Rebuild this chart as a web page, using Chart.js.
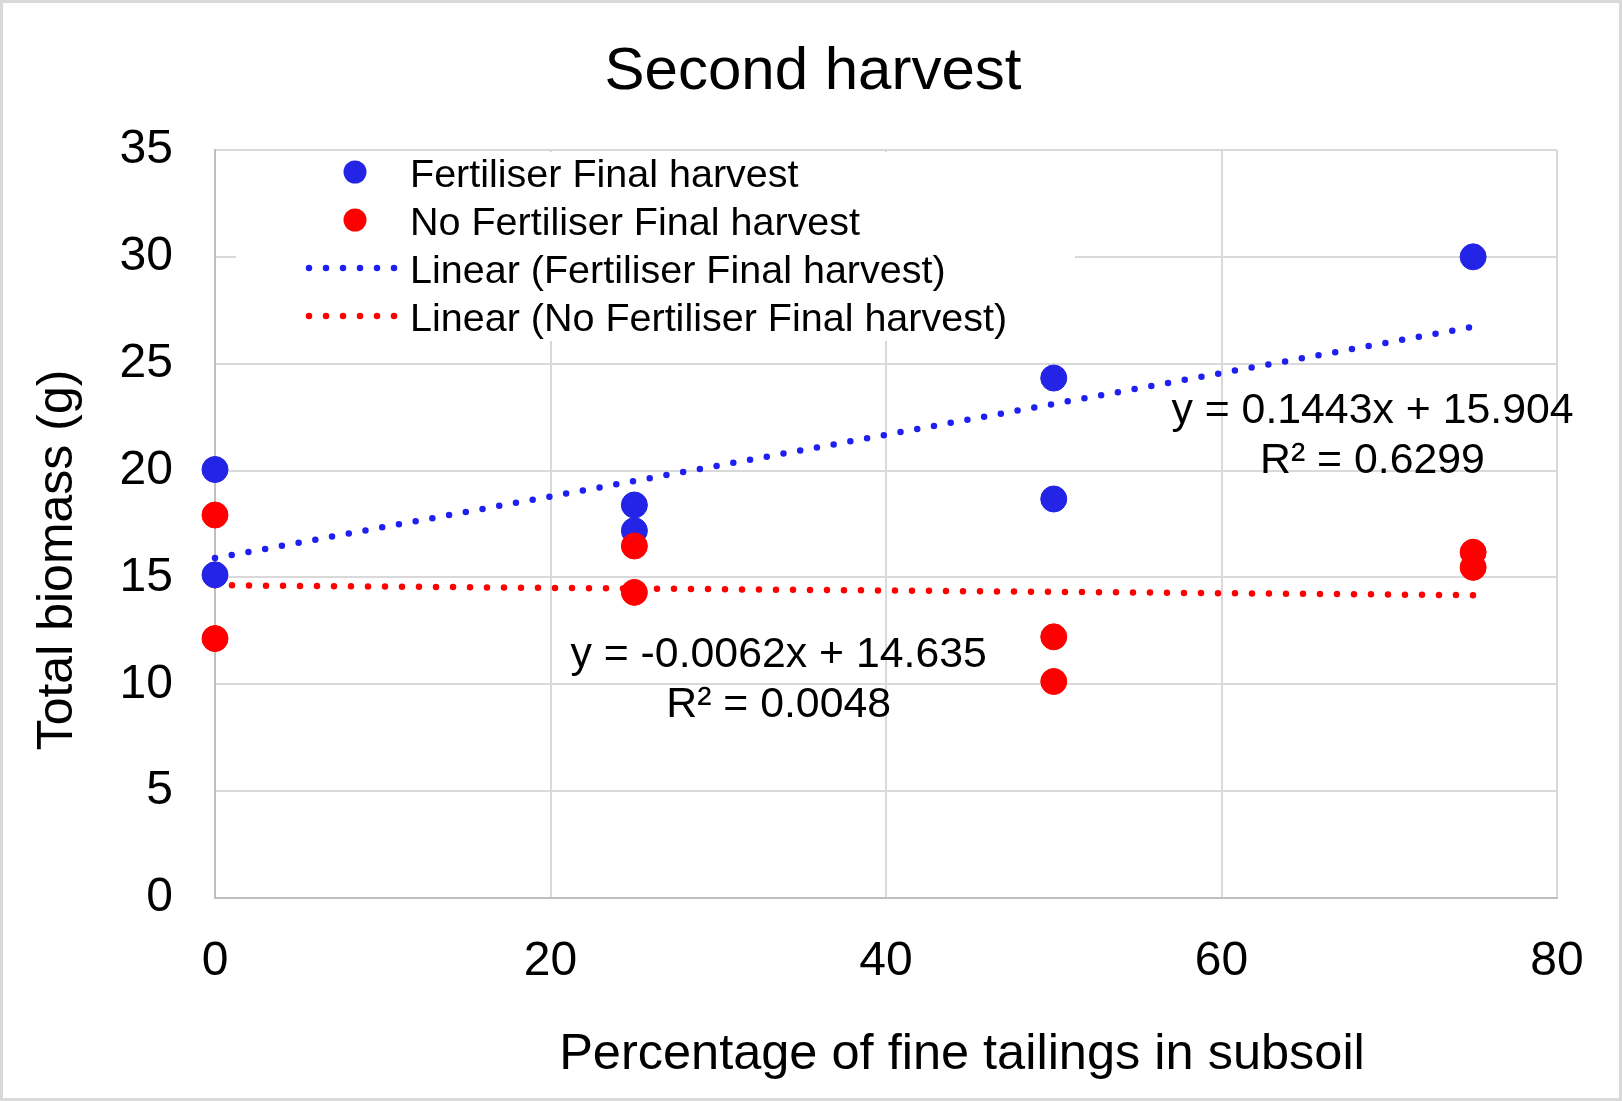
<!DOCTYPE html>
<html>
<head>
<meta charset="utf-8">
<title>Second harvest</title>
<script src="https://cdn.jsdelivr.net/npm/chart.js@4.4.1/dist/chart.umd.min.js"></script>
<style>
    html, body { margin: 0; padding: 0; background: #fff; }
    #myChart { display: block; }
</style>
</head>
<body>
<canvas id="myChart" width="1622" height="1101"></canvas>
<script>
// values
const fertX = [0, 0, 25, 25, 50, 50, 75];
const fertY = [20.05, 15.12, 18.39, 17.19, 24.33, 18.67, 30.0];
const noFertX = [0, 0, 25, 25, 50, 50, 75, 75];
const noFertY = [17.92, 12.14, 16.47, 14.30, 12.22, 10.13, 16.18, 15.47];

// trendlines as printed on the chart: [slope, intercept]
const fertTrend = [0.1443, 15.904];
const noFertTrend = [-0.0062, 14.635];
const trendRange = [0, 75];

const xTicks = [0, 20, 40, 60, 80];
const yTicks = [0, 5, 10, 15, 20, 25, 30, 35];

const fertEquation = ['y = 0.1443x + 15.904', 'R² = 0.6299'];
const noFertEquation = ['y = -0.0062x + 14.635', 'R² = 0.0048'];

const FONT = "'Liberation Sans', Arial, sans-serif";
const BLUE = '#2424e6';
const RED = '#ff0000';

function toPoints(xs, ys) {
    return xs.map((x, i) => ({ x: x, y: ys[i] }));
}
function trendPoints(coef) {
    return trendRange.map(x => ({ x: x, y: coef[0] * x + coef[1] }));
}

const decor = {
    id: 'decor',
    beforeDraw(chart) {
        const ctx = chart.ctx;
        ctx.save();
        ctx.fillStyle = '#fff';
        ctx.fillRect(0, 0, chart.width, chart.height);
        ctx.strokeStyle = '#d9d9d9';
        ctx.lineWidth = 3;
        ctx.strokeRect(1.5, 1.5, chart.width - 3, chart.height - 3);
        ctx.restore();
    },
    afterDatasetsDraw(chart) {
        const ctx = chart.ctx;
        const xs = chart.scales.x, ys = chart.scales.y;
        ctx.save();

        // legend box sits inside the plot, hiding the grid behind it
        ctx.fillStyle = '#fff';
        ctx.fillRect(236, 152, 839, 189);
        ctx.font = '39.5px ' + FONT;
        ctx.textAlign = 'left';
        ctx.textBaseline = 'alphabetic';
        chart.data.datasets.forEach(function(ds, i) {
            const cy = 172 + i * 48;
            if (ds.showLine) {
                ctx.strokeStyle = ds.borderColor;
                ctx.lineWidth = ds.borderWidth;
                ctx.lineCap = 'round';
                ctx.setLineDash(ds.borderDash);
                ctx.beginPath();
                ctx.moveTo(309, cy);
                ctx.lineTo(398, cy);
                ctx.stroke();
                ctx.setLineDash([]);
            } else {
                ctx.fillStyle = ds.pointBackgroundColor;
                ctx.beginPath();
                ctx.arc(355, cy, 11.5, 0, Math.PI * 2);
                ctx.fill();
            }
            ctx.fillStyle = '#000';
            ctx.fillText(ds.label, 410, cy + 14.5);
        });

        // trendline equations
        ctx.font = '42.8px ' + FONT;
        ctx.textAlign = 'center';
        ctx.fillStyle = '#000';
        const eqs = [[fertEquation, 69, 22.95], [noFertEquation, 33.6, 11.5]];
        eqs.forEach(function(e) {
            const px = xs.getPixelForValue(e[1]);
            const py = ys.getPixelForValue(e[2]);
            ctx.fillText(e[0][0], px, py + 15);
            ctx.fillText(e[0][1], px, py + 65);
        });
        ctx.restore();
    },
    afterDraw(chart) {
        const ctx = chart.ctx;
        ctx.save();
        ctx.fillStyle = '#000';
        ctx.textAlign = 'center';
        ctx.textBaseline = 'alphabetic';
        ctx.font = '60px ' + FONT;
        ctx.fillText('Second harvest', 813, 89);

        ctx.font = '50.5px ' + FONT;
        ctx.fillText('Percentage of fine tailings in subsoil', 962, 1069);

        ctx.font = '50px ' + FONT;
        ctx.translate(72, 560);
        ctx.rotate(-Math.PI / 2);
        ctx.fillText('Total biomass (g)', 0, 0);
        ctx.restore();
    }
};

const ctx = document.getElementById('myChart');
new Chart(ctx, {
    type: 'scatter',
    data: {
        datasets: [{
            label: 'Fertiliser Final harvest',
            data: toPoints(fertX, fertY),
            pointBackgroundColor: BLUE,
            pointBorderColor: BLUE,
            pointBorderWidth: 1,
            pointRadius: 13,
            clip: false,
            order: 1
        }, {
            label: 'No Fertiliser Final harvest',
            data: toPoints(noFertX, noFertY),
            pointBackgroundColor: RED,
            pointBorderColor: RED,
            pointBorderWidth: 1,
            pointRadius: 13,
            clip: false,
            order: 0
        }, {
            label: 'Linear (Fertiliser Final harvest)',
            data: trendPoints(fertTrend),
            showLine: true,
            borderColor: '#1f1ff2',
            borderWidth: 6.5,
            borderDash: [0, 17],
            borderCapStyle: 'round',
            pointRadius: 0,
            clip: false,
            order: 2
        }, {
            label: 'Linear (No Fertiliser Final harvest)',
            data: trendPoints(noFertTrend),
            showLine: true,
            borderColor: RED,
            borderWidth: 6.5,
            borderDash: [0, 17],
            borderCapStyle: 'round',
            pointRadius: 0,
            clip: false,
            order: 3
        }]
    },
    plugins: [decor],
    options: {
        responsive: false,
        animation: false,
        layout: { padding: { top: 150, right: 65, left: 0, bottom: 0 } },
        plugins: {
            legend: { display: false },
            tooltip: { enabled: false }
        },
        scales: {
            x: {
                type: 'linear',
                min: xTicks[0],
                max: xTicks[xTicks.length - 1],
                afterBuildTicks: s => { s.ticks = xTicks.map(v => ({ value: v })); },
                afterFit: s => { s.height = 203; },
                grid: { color: '#d9d9d9', lineWidth: 2, drawTicks: false },
                border: { color: '#bfbfbf', width: 2 },
                ticks: { color: '#000', font: { family: FONT, size: 48 }, padding: 35, maxRotation: 0 }
            },
            y: {
                type: 'linear',
                min: yTicks[0],
                max: yTicks[yTicks.length - 1],
                afterBuildTicks: s => { s.ticks = yTicks.map(v => ({ value: v })); },
                afterFit: s => { s.width = 215; },
                grid: { color: '#d9d9d9', lineWidth: 2, drawTicks: false },
                border: { color: '#bfbfbf', width: 2 },
                ticks: { color: '#000', font: { family: FONT, size: 48 }, padding: 42 }
            }
        }
    }
});
</script>
</body>
</html>
